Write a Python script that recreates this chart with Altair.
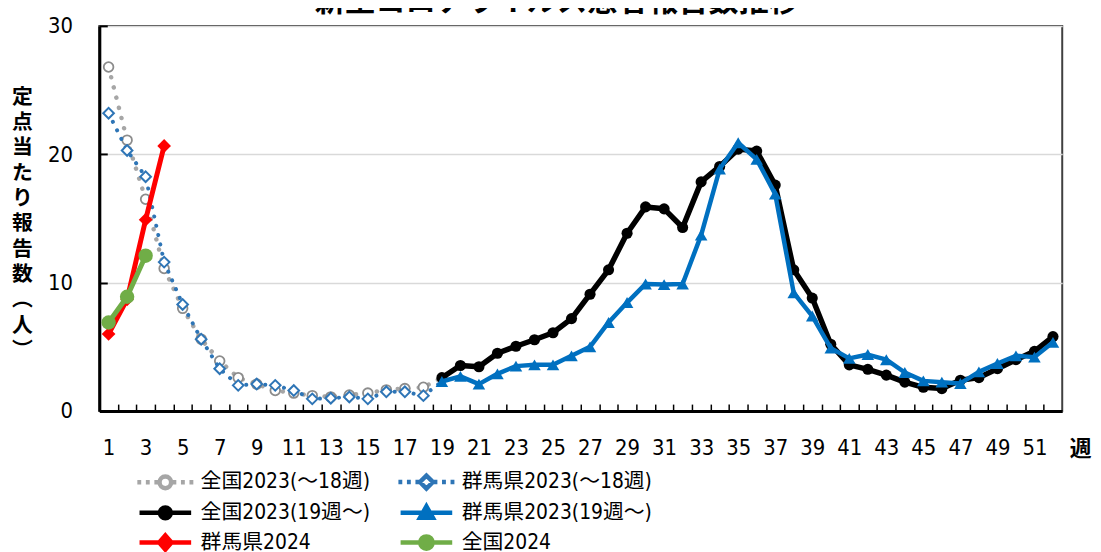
import altair as alt
import pandas as pd

# ---------------- data ----------------
weeks_all = list(range(1, 53))
weeks_early = list(range(1, 19))
weeks_late = list(range(19, 53))
weeks_2024_gunma = [1, 2, 3, 4]
weeks_2024_national = [1, 2, 3]

national_2023_early = [26.8, 21.1, 16.5, 11.1, 8.0, 5.6, 3.9, 2.6, 2.1, 1.6,
                       1.4, 1.2, 1.1, 1.25, 1.4, 1.65, 1.75, 1.85]
gunma_2023_early = [23.2, 20.3, 18.25, 11.6, 8.3, 5.6, 3.3, 2.0, 2.1, 2.0,
                    1.6, 0.95, 1.0, 1.1, 0.95, 1.5, 1.5, 1.2]
national_2023_late = [2.6, 3.55, 3.45, 4.5, 5.05, 5.55, 6.1, 7.2, 9.1, 11.0,
                      13.85, 15.9, 15.75, 14.3, 17.85, 19.05, 20.4, 20.25, 17.6, 11.0,
                      8.8, 5.2, 3.6, 3.25, 2.8, 2.25, 1.85, 1.75, 2.4, 2.6,
                      3.3, 4.0, 4.65, 5.8]
gunma_2023_late = [2.3, 2.7, 2.1, 2.9, 3.5, 3.6, 3.6, 4.3, 5.0, 6.9,
                   8.45, 9.9, 9.85, 9.9, 13.7, 18.85, 20.9, 19.6, 16.9, 9.2,
                   7.4, 4.9, 4.1, 4.4, 4.0, 3.0, 2.35, 2.25, 2.15, 3.05,
                   3.7, 4.3, 4.2, 5.35]
gunma_2024 = [6.0, 8.7, 14.9, 20.65]
national_2024 = [6.9, 8.9, 12.1]

# legend order (laid out column by column: left column first, then right column)
series_names = ["全国2023(～18週)", "全国2023(19週～)", "群馬県2024",
                "群馬県2023(～18週)", "群馬県2023(19週～)", "全国2024"]
y_title_chars = ["定", "点", "当", "た", "り", "報", "告", "数", "︵", "人", "︶"]
chart_title = "新型コロナウイルス患者報告数推移"
x_title = "週"

# ---------------- styling ----------------
NUM = "Liberation Sans Narrow, DejaVu Sans Condensed, Noto Sans CJK JP"
CJK = "Noto Sans CJK JP"
W, H = 970, 388
STEP = W / len(weeks_all)

C_GRAY_LINE = "#a6a6a6"
C_GRAY_MK = "#8c8c8c"
C_BLUE_DOT = "#2e75b6"
C_BLACK = "#000000"
C_BLUE = "#0070c0"
C_RED = "#ff0000"
C_GREEN = "#70ad47"

XSCALE = alt.Scale(domain=weeks_all, type="point", padding=0.5)
YSCALE = alt.Scale(domain=[0, 30], nice=False, zero=True)

XAXIS = alt.Axis(orient="bottom", title=x_title, labelExpr="datum.value % 2 == 1 ? datum.label : ''",
                 labelAngle=0, labelFont=NUM, labelFontSize=22, labelColor="black",
                 labelPadding=27, labelOverlap=False, ticks=False, tickSize=0,
                 domainColor="black", domainWidth=3, grid=False,
                 titleX=988, titleY=38, titleAngle=0, titleAlign="center",
                 titleBaseline="middle", titleFont=CJK, titleFontSize=22,
                 titleFontWeight="bold", titleColor="black")
YAXIS = alt.Axis(orient="left", title=y_title_chars, values=[0, 10, 20, 30], grid=True,
                 gridColor="#d9d9d9", gridWidth=1.5, ticks=False, tickSize=0,
                 labelFont=NUM, labelFontSize=22, labelColor="black", labelPadding=27,
                 domainColor="black", domainWidth=3, titleAngle=0, titleX=-78,
                 titleY=61, titleAlign="center", titleBaseline="top",
                 titleLineHeight=25.5, titleFont=CJK, titleFontSize=21,
                 titleFontWeight="bold", titleColor="black")
XTICKS = alt.Axis(orient="top", offset=-H, labels=False, domain=False, ticks=True,
                  tickSize=7, tickWidth=1.5, tickColor="black", tickOffset=-STEP / 2,
                  grid=False, title=None)
YTICKS = alt.Axis(orient="right", offset=-W, labels=False, domain=False, ticks=True,
                  tickSize=8, tickWidth=2, tickColor="black", values=[0, 10, 20, 30],
                  grid=False, title=None)


def df_of(weeks, values):
    return pd.DataFrame({"week": weeks, "value": values})


def enc(chart, axes=False):
    return chart.encode(
        x=alt.X("week:O", scale=XSCALE, axis=XAXIS if axes else None),
        y=alt.Y("value:Q", scale=YSCALE, axis=YAXIS if axes else None),
    )


def line(df, color, width, dash=None, axes=False):
    kw = dict(color=color, strokeWidth=width, strokeCap="round", strokeJoin="round", opacity=1)
    if dash:
        kw["strokeDash"] = dash
    return enc(alt.Chart(df).mark_line(**kw), axes)


def points(df, shape, size, stroke, fill, sw=0):
    kw = dict(shape=shape, size=size, opacity=1, filled=True, fill=fill)
    if sw:
        kw.update(stroke=stroke, strokeWidth=sw)
    return enc(alt.Chart(df).mark_point(**kw))


# dotted early-season lines continue to week 19's value
g_early_line = df_of(weeks_early + [19], national_2023_early + [national_2023_late[0]])
b_early_line = df_of(weeks_early + [19], gunma_2023_early + [gunma_2023_late[0]])

layers = [
    line(g_early_line, C_GRAY_LINE, 4.5, [0.1, 10.5], axes=True),
    points(df_of(weeks_early, national_2023_early), "circle", 95, C_GRAY_MK, "white", 1.8),
    line(b_early_line, C_BLUE_DOT, 4, [0.1, 9.5]),
    points(df_of(weeks_early, gunma_2023_early), "diamond", 115, C_BLUE_DOT, "white", 2),
    line(df_of(weeks_late, national_2023_late), C_BLACK, 5.5),
    points(df_of(weeks_late, national_2023_late), "circle", 125, C_BLACK, C_BLACK),
    line(df_of(weeks_late, gunma_2023_late), C_BLUE, 4.5),
    points(df_of(weeks_late, gunma_2023_late), "triangle-up", 160, C_BLUE, C_BLUE),
    line(df_of(weeks_2024_gunma, gunma_2024), C_RED, 5),
    points(df_of(weeks_2024_gunma, gunma_2024), "diamond", 190, C_RED, C_RED),
    line(df_of(weeks_2024_national, national_2024), C_GREEN, 5),
    points(df_of(weeks_2024_national, national_2024), "circle", 210, C_GREEN, C_GREEN),
]

# ---------------- legend (line + marker symbols, drawn as custom symbol paths) ----------------
def dotted_segments(gap=0.66, dot=0.3):
    offs = [0.7, 0.7 + gap, 0.7 + 2 * gap]
    segs = []
    for o in offs:
        for c in (1 - o, 1 + o):
            segs.append(f"M{c - dot / 2:.3f},0H{c + dot / 2:.3f}")
    return "".join(segs)


P_OPEN_CIRCLE = dotted_segments() + "M1.45,0A0.45,0.45,0,1,1,0.55,0A0.45,0.45,0,1,1,1.45,0Z"
P_OPEN_DIAMOND = dotted_segments() + "M1,-0.5L1.5,0L1,0.5L0.5,0Z"
P_CIRCLE = "M-1,0H3M1.42,0A0.42,0.42,0,1,1,0.58,0A0.42,0.42,0,1,1,1.42,0Z"
P_TRIANGLE = "M-1,0H3M1,-0.5L1.5,0.38L0.5,0.38Z"
P_DIAMOND = "M-1,0H3M1,-0.55L1.48,0L1,0.55L0.52,0Z"
P_BIG_CIRCLE = "M-1,0H3M1.48,0A0.48,0.48,0,1,1,0.52,0A0.48,0.48,0,1,1,1.48,0Z"
legend_paths = [P_OPEN_CIRCLE, P_CIRCLE, P_DIAMOND, P_OPEN_DIAMOND, P_TRIANGLE, P_BIG_CIRCLE]
legend_strokes = [C_GRAY_LINE, C_BLACK, C_RED, C_BLUE_DOT, C_BLUE, C_GREEN]
legend_fills = ["white", C_BLACK, C_RED, "white", C_BLUE, C_GREEN]

LEG = alt.Legend(orient="none", legendX=38, legendY=444, columns=2, columnPadding=19,
                 rowPadding=-2.5, symbolSize=676, symbolStrokeWidth=4.5, labelOffset=33,
                 labelFont=NUM, labelFontSize=21, labelColor="black", labelLimit=400,
                 title=None, padding=0, symbolOpacity=1)

legend_df = pd.DataFrame({"week": pd.Series([], dtype="int64"),
                          "value": pd.Series([], dtype="float64"),
                          "series": pd.Series([], dtype="object")})
legend_layer = alt.Chart(legend_df).mark_point(opacity=1, strokeWidth=4.5).encode(
    x=alt.X("week:O", scale=XSCALE, axis=XTICKS),
    y=alt.Y("value:Q", scale=YSCALE, axis=YTICKS),
    shape=alt.Shape("series:N", scale=alt.Scale(domain=series_names, range=legend_paths), legend=LEG),
    stroke=alt.Stroke("series:N", scale=alt.Scale(domain=series_names, range=legend_strokes), legend=LEG),
    fill=alt.Fill("series:N", scale=alt.Scale(domain=series_names, range=legend_fills), legend=LEG),
)

chart = alt.layer(*layers, legend_layer).properties(
    width=W, height=H,
    autosize=alt.AutoSizeParams(type="none"),
    padding={"left": 92, "top": 16, "right": 31, "bottom": 144},
    title=alt.Title(chart_title, fontSize=30.5, fontWeight="bold", font=CJK, color="black",
                    anchor="middle", offset=4, dx=-24, dy=7),
).configure_view(stroke="#404040", strokeWidth=2)

chart.save("out.html", embed_options={"renderer": "svg", "actions": False})
